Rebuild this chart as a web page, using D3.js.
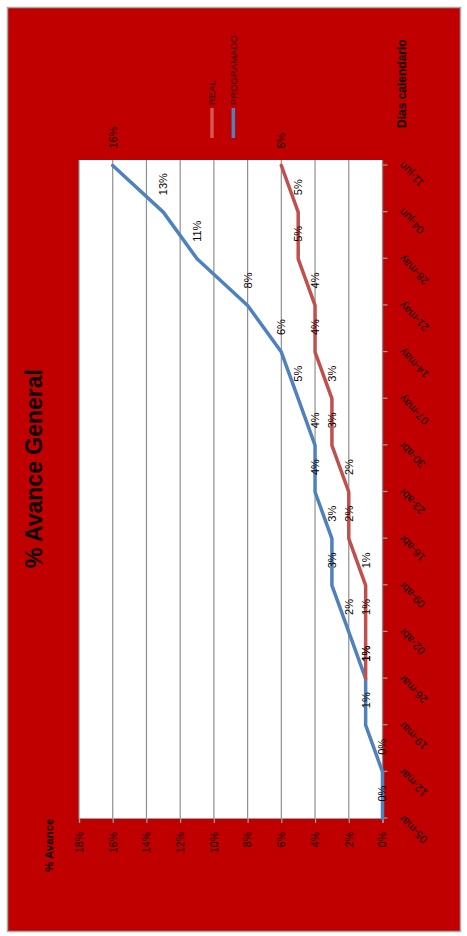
<!DOCTYPE html>
<html>
<head>
<meta charset="utf-8">
<script src="https://cdn.jsdelivr.net/npm/d3@7"></script>
<style>
  html, body { margin: 0; padding: 0; background: #ffffff; }
  svg { display: block; font-family: "Liberation Sans", Arial, sans-serif; }
</style>
</head>
<body>
<svg id="chart" width="467" height="936"></svg>
<script>
// Weekly cut-off dates (category axis)
const categories = ["05-mar", "12-mar", "19-mar", "26-mar", "02-abr", "09-abr", "16-abr",
                    "23-abr", "30-abr", "07-may", "14-may", "21-may", "28-may", "04-jun", "11-jun"];
// Cumulative progress, percent
const programado = [0, 0, 1, 1, 2, 3, 3, 4, 4, 5, 6, 8, 11, 13, 16];
const real       = [null, null, null, 1, 1, 1, 2, 2, 3, 3, 4, 4, 5, 5, 6];
// Value axis ticks, percent
const valueTicks = [0, 2, 4, 6, 8, 10, 12, 14, 16, 18];

const seriesNames = ["REAL", "PROGRAMADO"];
const seriesColors = { "REAL": "#c0504d", "PROGRAMADO": "#4f81bd" };
const textColor = "#0a0000";

// The chart is laid out in a landscape frame and turned a quarter turn
// counter-clockwise onto the portrait page.
const W = 936, H = 467;
const svg = d3.select("#chart");
const g = svg.append("g").attr("transform", `translate(0,${W}) rotate(-90)`);

// Chart area
g.append("rect")
  .attr("x", 4.5).attr("y", 7.5)
  .attr("width", 924).attr("height", 453)
  .attr("fill", "#c00000")
  .attr("stroke", "#a9a9a9").attr("stroke-width", 1.5);

const plot = { left: 117, right: 776, top: 79, bottom: 382.5 };

g.append("rect")
  .attr("x", plot.left).attr("y", plot.top)
  .attr("width", plot.right - plot.left).attr("height", plot.bottom - plot.top)
  .attr("fill", "#ffffff");

const x = d3.scalePoint().domain(categories).range([117.5, 770.5]);
const y = d3.scaleLinear().domain([0, 18]).range([plot.bottom, plot.top]);

// Horizontal gridlines
g.append("g").selectAll("line")
  .data(valueTicks.filter(v => v > 0))
  .join("line")
  .attr("x1", plot.left).attr("x2", plot.right)
  .attr("y1", d => y(d)).attr("y2", d => y(d))
  .attr("stroke", "#8f8f8f").attr("stroke-width", 1.2);

// Value axis
const yAxis = g.append("g")
  .attr("transform", `translate(${plot.left},0)`)
  .call(d3.axisLeft(y).tickValues(valueTicks).tickSize(4).tickPadding(9)
          .tickFormat(d => d + "%"));
yAxis.select(".domain").attr("stroke", "#a0a0a0").attr("stroke-width", 1.2);
yAxis.selectAll(".tick line").attr("stroke", "#a0a0a0").attr("stroke-width", 1.2);
yAxis.selectAll("text")
  .attr("fill", textColor).attr("font-size", "10.5px")
  .style("font-family", "'Liberation Sans', Arial, sans-serif");

// Category axis
const xAxis = g.append("g")
  .attr("transform", `translate(0,${plot.bottom})`)
  .call(d3.axisBottom(x).tickSize(5).tickSizeOuter(0));
xAxis.select(".domain").remove();
xAxis.append("line")
  .attr("x1", plot.left).attr("x2", plot.right)
  .attr("stroke", "#8a8a8a").attr("stroke-width", 1.3);
xAxis.selectAll(".tick line").attr("stroke", "#a0a0a0").attr("stroke-width", 1.2);
xAxis.selectAll("text")
  .attr("x", 0).attr("y", 0).attr("dy", 0)
  .attr("text-anchor", "end")
  .attr("transform", "translate(4,21) rotate(-45)")
  .attr("fill", textColor).attr("font-size", "11px")
  .style("font-family", "'Liberation Sans', Arial, sans-serif");

// Series lines
const line = d3.line()
  .defined(d => d != null)
  .x(d => x(d.cat))
  .y(d => y(d.v));

const seriesData = {
  "PROGRAMADO": programado.map((v, i) => ({ cat: categories[i], v })),
  "REAL": real.map((v, i) => ({ cat: categories[i], v }))
};

["PROGRAMADO", "REAL"].forEach(name => {
  const pts = seriesData[name];
  g.append("path")
    .datum(pts.map(p => p.v == null ? null : p))
    .attr("fill", "none")
    .attr("stroke", seriesColors[name])
    .attr("stroke-width", 3.5)
    .attr("stroke-linejoin", "round")
    .attr("stroke-linecap", "round")
    .attr("d", line);
});

// Data labels, to the right of each point
["PROGRAMADO", "REAL"].forEach(name => {
  g.append("g").selectAll("text")
    .data(seriesData[name].filter(p => p.v != null))
    .join("text")
    .attr("x", d => x(d.cat) + 17)
    .attr("y", d => y(d.v))
    .attr("dy", "0.36em")
    .attr("fill", textColor)
    .attr("font-size", "11px")
    .text(d => d.v + "%");
});

// Title
g.append("text")
  .attr("x", 467.5).attr("y", 42)
  .attr("text-anchor", "middle")
  .attr("font-size", "23px").attr("font-weight", "bold")
  .attr("fill", textColor)
  .text("% Avance General");

// Axis titles
g.append("text")
  .attr("x", 64).attr("y", 53)
  .attr("font-size", "11.5px").attr("font-weight", "bold")
  .attr("fill", textColor)
  .text("% Avance");

g.append("text")
  .attr("x", 808).attr("y", 406)
  .attr("font-size", "12px").attr("font-weight", "bold")
  .attr("fill", textColor)
  .text("Días calendario");

// Legend
const legendY = { "REAL": 212, "PROGRAMADO": 233.3 };
const legend = g.append("g");
seriesNames.forEach(name => {
  legend.append("line")
    .attr("x1", 798).attr("x2", 828)
    .attr("y1", legendY[name]).attr("y2", legendY[name])
    .attr("stroke", name === "REAL" ? "#d65552" : seriesColors[name])
    .attr("stroke-width", 3.5);
  legend.append("text")
    .attr("x", 831).attr("y", legendY[name])
    .attr("dy", "0.36em")
    .attr("font-size", "9.5px")
    .attr("fill", "#3a0505")
    .text(name);
});
</script>
</body>
</html>
